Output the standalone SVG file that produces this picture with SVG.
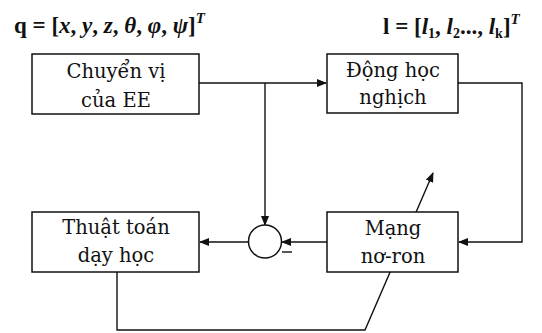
<svg xmlns="http://www.w3.org/2000/svg" width="542" height="333" viewBox="0 0 542 333">
  <style>
    .box { fill: #ffffff; stroke: #111111; stroke-width: 1.5; }
    .wire { fill: none; stroke: #111111; stroke-width: 1.4; }
    .lbl { font-family: 'DejaVu Serif', 'Liberation Serif', serif; font-size: 19.5px; fill: #111111; text-anchor: middle; }
    .eq { font-size: 23px; font-weight: bold; fill: #111111; }
    .it { font-style: italic; }
  </style>
  <defs>
    <marker id="arrow" markerWidth="10" markerHeight="8" refX="9" refY="4" orient="auto" markerUnits="userSpaceOnUse">
      <path d="M0,0 L10,4 L0,8 z" fill="#111111"/>
    </marker>
  </defs>

  <!-- state vectors -->
  <text class="eq" font-family="Liberation Serif" x="14" y="33">q = [<tspan class="it">x</tspan>, <tspan class="it">y</tspan>, <tspan class="it">z</tspan>, <tspan class="it">θ</tspan>, <tspan class="it">φ</tspan>, <tspan class="it">ψ</tspan>]<tspan class="it" dy="-10" font-size="15">T</tspan></text>
  <text class="eq" font-family="Liberation Serif" x="383" y="34">l = [<tspan class="it">l</tspan><tspan font-size="14" dy="4">1</tspan><tspan dy="-4">, </tspan><tspan class="it">l</tspan><tspan font-size="14" dy="4">2</tspan><tspan dy="-4">..., </tspan><tspan class="it">l</tspan><tspan font-size="14" dy="4">k</tspan><tspan dy="-4">]</tspan><tspan class="it" dy="-10" font-size="15">T</tspan></text>

  <!-- connectors -->
  <g id="connectors">
    <path class="wire" d="M199,83 H326" marker-end="url(#arrow)"/>
    <path class="wire" d="M265,83 V225" marker-end="url(#arrow)"/>
    <path class="wire" d="M458,83 H522 V242 H459" marker-end="url(#arrow)"/>
    <path class="wire" d="M327,242 H282" marker-end="url(#arrow)"/>
    <path class="wire" d="M248,242 H200" marker-end="url(#arrow)"/>
    <path class="wire" d="M117,272 V330 H365 L433,173" marker-end="url(#arrow)"/>
  </g>

  <g id="node-chuyen-vi">
    <rect class="box" x="32" y="54" width="167" height="60"/>
    <text class="lbl" x="116" y="78">Chuyển vị</text>
    <text class="lbl" x="116" y="107">của EE</text>
  </g>

  <g id="node-dong-hoc">
    <rect class="box" x="327" y="54" width="131" height="59"/>
    <text class="lbl" x="393" y="77">Động học</text>
    <text class="lbl" x="393" y="104">nghịch</text>
  </g>

  <g id="node-mang">
    <rect class="box" x="327" y="212" width="131" height="60"/>
    <text class="lbl" x="393" y="235">Mạng</text>
    <text class="lbl" x="393" y="263">nơ-ron</text>
  </g>

  <g id="node-thuat-toan">
    <rect class="box" x="32" y="212" width="167" height="60"/>
    <text class="lbl" x="116" y="234">Thuật toán</text>
    <text class="lbl" x="116" y="262">dạy học</text>
  </g>

  <g id="node-sum">
    <circle class="box" cx="265" cy="241.5" r="16.5"/>
    <path class="wire" d="M282,252 H292"/>
  </g>
</svg>
